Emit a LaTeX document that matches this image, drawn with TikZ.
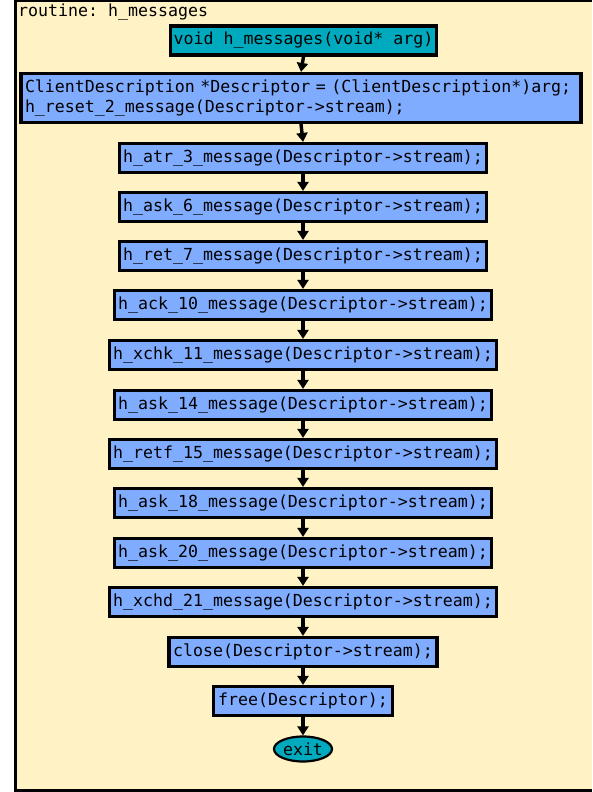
\documentclass[tikz,border=0pt]{standalone}
\usepackage{fontspec}
\setmonofont{DejaVu Sans Mono}
\usepackage{tikz}
\usetikzlibrary{arrows.meta,shapes.geometric}

\definecolor{paper}{RGB}{255,242,196}
\definecolor{stmtblue}{RGB}{128,172,255}
\definecolor{entrycyan}{RGB}{0,170,190}

\tikzset{
  stmt/.style={draw=black, line width=3.2pt, fill=stmtblue, minimum height=29pt,
    inner sep=0pt, font=\ttfamily\fontsize{16.6}{20}\selectfont},
  entrybox/.style={stmt, fill=entrycyan},
  exitnode/.style={draw=black, line width=2.2pt, fill=entrycyan, ellipse,
    minimum width=58pt, minimum height=25pt, inner sep=0pt,
    font=\ttfamily\fontsize{16.6}{20}\selectfont},
  flow/.style={line width=3.4pt, -{Triangle[width=11pt,length=9pt]}}
}

\begin{document}
\begin{tikzpicture}[x=1pt,y=-1pt]
	\useasboundingbox (0,0) rectangle (592,792);
	% routine frame
	\fill[paper] (15,1) rectangle (592,790);
	\draw[black, line width=3pt] (592,1) -- (15,1) -- (15,790) -- (592,790);
	\node[anchor=west, inner sep=0pt, font=\ttfamily\fontsize{16.6}{20}\selectfont] (title) at (18,12) {routine: h\_messages};

	% statements
	\node[entrybox, minimum width=266pt] (entry) at (303.5,40.5) {void h\_messages(void* arg)};
	\node[stmt, minimum width=560pt, minimum height=49pt, align=left, text width=552pt] (init) at (301,98)
		{ClientDescription *Descriptor = (ClientDescription*)arg;\\h\_reset\_2\_message(Descriptor->stream);};
	\node[stmt, minimum width=367pt] (atr3)   at (303,158) {h\_atr\_3\_message(Descriptor->stream);};
	\node[stmt, minimum width=367pt] (ask6)   at (303,207) {h\_ask\_6\_message(Descriptor->stream);};
	\node[stmt, minimum width=367pt] (ret7)   at (303,256) {h\_ret\_7\_message(Descriptor->stream);};
	\node[stmt, minimum width=377pt] (ack10)  at (303,305) {h\_ack\_10\_message(Descriptor->stream);};
	\node[stmt, minimum width=387pt] (xchk11) at (303,355) {h\_xchk\_11\_message(Descriptor->stream);};
	\node[stmt, minimum width=377pt] (ask14)  at (303,405) {h\_ask\_14\_message(Descriptor->stream);};
	\node[stmt, minimum width=387pt] (retf15) at (303,454) {h\_retf\_15\_message(Descriptor->stream);};
	\node[stmt, minimum width=377pt] (ask18)  at (303,503) {h\_ask\_18\_message(Descriptor->stream);};
	\node[stmt, minimum width=377pt] (ask20)  at (303,553) {h\_ask\_20\_message(Descriptor->stream);};
	\node[stmt, minimum width=387pt] (xchd21) at (303,602) {h\_xchd\_21\_message(Descriptor->stream);};
	\node[stmt, minimum width=268pt] (close)  at (303,652) {close(Descriptor->stream);};
	\node[stmt, minimum width=179pt] (free)   at (303,701) {free(Descriptor);};
	\node[exitnode] (exit) at (303,749) {exit};

	% control flow
	\foreach \a/\b in {entry/init, init/atr3, atr3/ask6, ask6/ret7, ret7/ack10, ack10/xchk11,
		xchk11/ask14, ask14/retf15, retf15/ask18, ask18/ask20, ask20/xchd21, xchd21/close,
		close/free, free/exit}
		\draw[flow] (\a.south) -- (\b.north);
\end{tikzpicture}
\end{document}
